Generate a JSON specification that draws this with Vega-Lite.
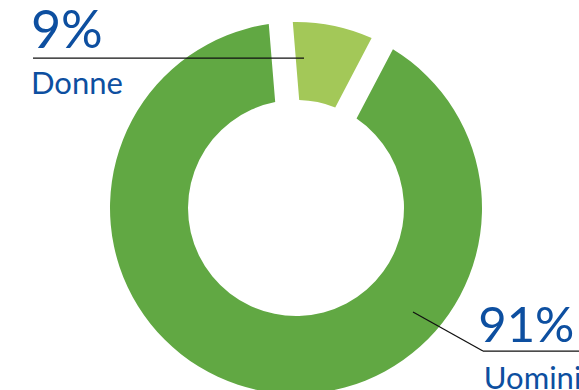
{
  "$schema": "https://vega.github.io/schema/vega-lite/v6.json",
  "width": 579,
  "height": 390,
  "autosize": {"type": "none"},
  "padding": 0,
  "background": "white",
  "config": {"view": {"stroke": null}, "text": {"font": "Lato", "color": "#0D4FA0"}},
  "data": {"values": [
    {"genere": "Donne", "percentuale": 9, "etichetta": "9%"},
    {"genere": "Uomini", "percentuale": 91, "etichetta": "91%"}
  ]},
  "layer": [
    {
      "mark": {"type": "arc", "innerRadius": 108, "outerRadius": 186, "padAngle": 0.112},
      "encoding": {
        "x": {"datum": 0, "type": "quantitative", "scale": {"domain": [-159.14, 152.15], "nice": false, "zero": false}, "axis": null},
        "y": {"datum": 0, "type": "quantitative", "scale": {"domain": [-97.85, 111.83], "nice": false, "zero": false}, "axis": null},
        "theta": {"field": "percentuale", "type": "quantitative", "stack": true, "scale": {"range": [-0.082, 6.201]}},
        "order": {"field": "percentuale", "type": "quantitative", "sort": "ascending"},
        "color": {"field": "genere", "type": "nominal", "scale": {"domain": ["Donne", "Uomini"], "range": ["#A3C858", "#61A843"]}, "legend": null}
      }
    },
    {
      "transform": [{"filter": "datum.genere === 'Donne'"}],
      "mark": {"type": "rule", "color": "#111111", "strokeWidth": 1.3},
      "encoding": {
        "x": {"datum": -141.4, "type": "quantitative", "scale": {"domain": [-159.14, 152.15], "nice": false, "zero": false}, "axis": null},
        "x2": {"datum": 4.3},
        "y": {"datum": 80.6, "type": "quantitative", "scale": {"domain": [-97.85, 111.83], "nice": false, "zero": false}, "axis": null}
      }
    },
    {
      "transform": [{"filter": "datum.genere === 'Uomini'"}],
      "mark": {"type": "rule", "color": "#111111", "strokeWidth": 1.3},
      "encoding": {
        "x": {"datum": 62.9, "type": "quantitative", "scale": {"domain": [-159.14, 152.15], "nice": false, "zero": false}, "axis": null},
        "x2": {"datum": 100.5},
        "y": {"datum": -55.9, "type": "quantitative", "scale": {"domain": [-97.85, 111.83], "nice": false, "zero": false}, "axis": null},
        "y2": {"datum": -76.9}
      }
    },
    {
      "transform": [{"filter": "datum.genere === 'Uomini'"}],
      "mark": {"type": "rule", "color": "#111111", "strokeWidth": 1.3},
      "encoding": {
        "x": {"datum": 100.5, "type": "quantitative", "scale": {"domain": [-159.14, 152.15], "nice": false, "zero": false}, "axis": null},
        "x2": {"datum": 152.2},
        "y": {"datum": -76.9, "type": "quantitative", "scale": {"domain": [-97.85, 111.83], "nice": false, "zero": false}, "axis": null}
      }
    },
    {
      "transform": [{"filter": "datum.genere === 'Donne'"}],
      "mark": {"type": "text", "align": "left", "baseline": "alphabetic", "fontSize": 52},
      "encoding": {
        "x": {"datum": -142.5, "type": "quantitative", "scale": {"domain": [-159.14, 152.15], "nice": false, "zero": false}, "axis": null},
        "y": {"datum": 86.0, "type": "quantitative", "scale": {"domain": [-97.85, 111.83], "nice": false, "zero": false}, "axis": null},
        "text": {"field": "etichetta"}
      }
    },
    {
      "transform": [{"filter": "datum.genere === 'Donne'"}],
      "mark": {"type": "text", "align": "left", "baseline": "alphabetic", "fontSize": 31},
      "encoding": {
        "x": {"datum": -142.5, "type": "quantitative", "scale": {"domain": [-159.14, 152.15], "nice": false, "zero": false}, "axis": null},
        "y": {"datum": 61.3, "type": "quantitative", "scale": {"domain": [-97.85, 111.83], "nice": false, "zero": false}, "axis": null},
        "text": {"field": "genere"}
      }
    },
    {
      "transform": [{"filter": "datum.genere === 'Uomini'"}],
      "mark": {"type": "text", "align": "left", "baseline": "alphabetic", "fontSize": 49},
      "encoding": {
        "x": {"datum": 98.0, "type": "quantitative", "scale": {"domain": [-159.14, 152.15], "nice": false, "zero": false}, "axis": null},
        "y": {"datum": -72.0, "type": "quantitative", "scale": {"domain": [-97.85, 111.83], "nice": false, "zero": false}, "axis": null},
        "text": {"field": "etichetta"}
      }
    },
    {
      "transform": [{"filter": "datum.genere === 'Uomini'"}],
      "mark": {"type": "text", "align": "left", "baseline": "alphabetic", "fontSize": 31},
      "encoding": {
        "x": {"datum": 101.0, "type": "quantitative", "scale": {"domain": [-159.14, 152.15], "nice": false, "zero": false}, "axis": null},
        "y": {"datum": -97.3, "type": "quantitative", "scale": {"domain": [-97.85, 111.83], "nice": false, "zero": false}, "axis": null},
        "text": {"field": "genere"}
      }
    }
  ]
}
